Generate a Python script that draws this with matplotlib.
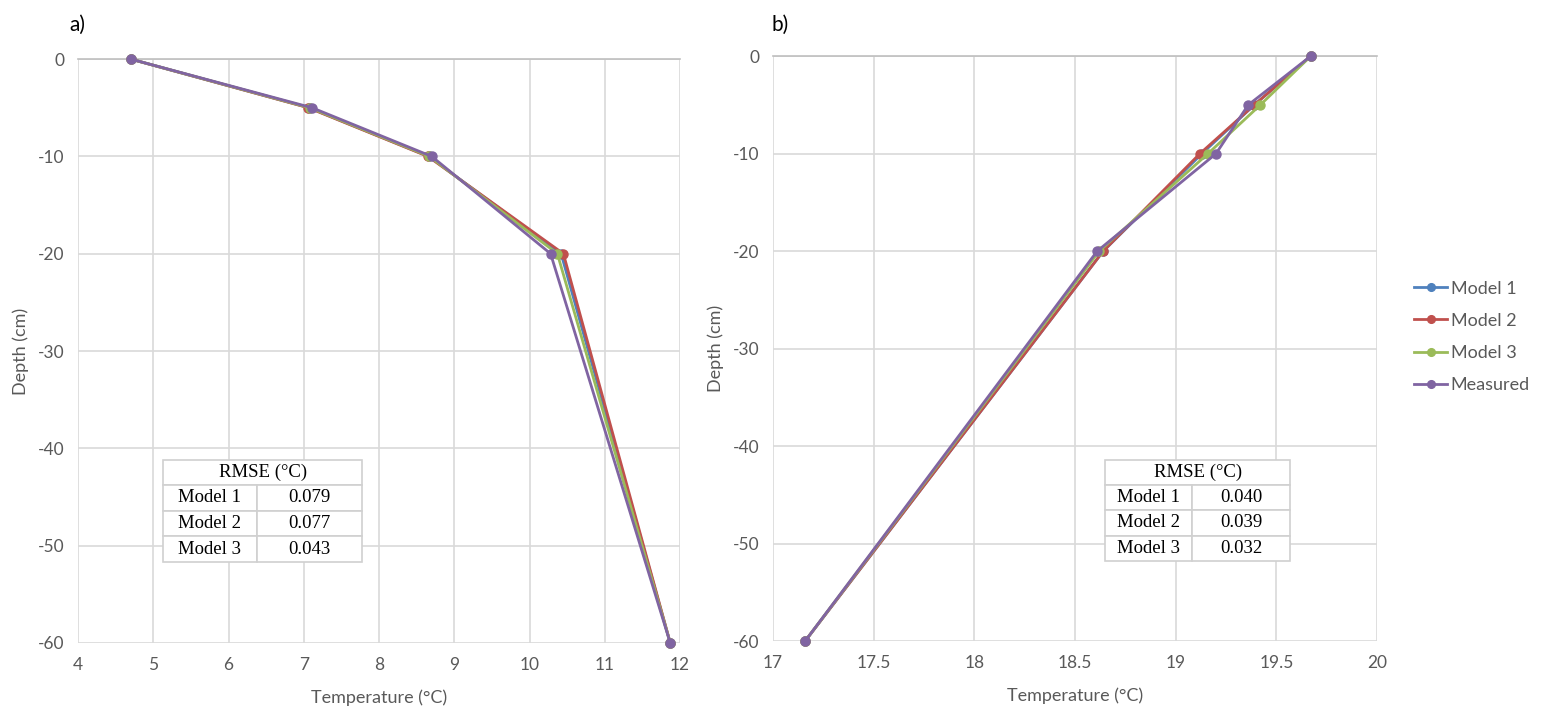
import matplotlib.pyplot as plt

# depths (cm)
depth = [0, -5, -10, -20, -60]

# panel a) temperatures (°C)
a_model1 = [4.70, 7.07, 8.66, 10.42, 11.87]
a_model2 = [4.70, 7.06, 8.65, 10.45, 11.87]
a_model3 = [4.70, 7.08, 8.67, 10.37, 11.87]
a_measured = [4.70, 7.11, 8.70, 10.28, 11.87]

# panel b) temperatures (°C)
b_model1 = [19.67, 19.39, 19.13, 18.64, 17.16]
b_model2 = [19.67, 19.39, 19.12, 18.64, 17.16]
b_model3 = [19.67, 19.42, 19.16, 18.62, 17.16]
b_measured = [19.67, 19.36, 19.20, 18.61, 17.16]

models = ['Model 1', 'Model 2', 'Model 3']
rmse_a = ['0.079', '0.077', '0.043']
rmse_b = ['0.040', '0.039', '0.032']

names = ['Model 1', 'Model 2', 'Model 3', 'Measured']
colors = ['#4F81BD', '#C0504D', '#9BBB59', '#8064A2']

plt.rcParams['font.family'] = ['Lato', 'DejaVu Sans']
plt.rcParams['axes.unicode_minus'] = False
tick_col = '#595959'
grid_col = '#D9D9D9'

fig = plt.figure(figsize=(15.49, 7.12), dpi=100)
ax1 = fig.add_axes([0.0504, 0.097, 0.3886, 0.820])
ax2 = fig.add_axes([0.499, 0.0997, 0.390, 0.8213])


def style(ax, xlim, xticks):
    ax.set_xlim(*xlim)
    ax.set_ylim(-60, 0)
    ax.set_xticks(xticks)
    ax.set_yticks(range(-60, 1, 10))
    ax.grid(True, color=grid_col, lw=1.2)
    ax.set_axisbelow(True)
    for s in ['left', 'right', 'bottom']:
        ax.spines[s].set_visible(False)
    ax.spines['top'].set_color('#BFBFBF')
    ax.spines['top'].set_linewidth(1.2)
    ax.tick_params(length=0, labelsize=12.5, colors=tick_col, pad=10)
    ax.set_xlabel('Temperature (°C)', fontsize=13, color=tick_col, labelpad=12)
    ax.set_ylabel('Depth (cm)', fontsize=13, color=tick_col, labelpad=6)


def add_table(ax, vals, bbox):
    x, y, w, h = bbox
    hdr = ax.table(cellText=[['RMSE (°C)']], cellLoc='center',
                   bbox=[x, y + h * 0.75, w, h * 0.25])
    body = ax.table(cellText=[[m, v] for m, v in zip(models, vals)],
                    cellLoc='center', colWidths=[0.47, 0.53],
                    bbox=[x, y, w, h * 0.75])
    for t in (hdr, body):
        t.set_zorder(5)
        t.auto_set_font_size(False)
        for cell in t.get_celld().values():
            cell.set_edgecolor('#D0D0D0')
            cell.set_linewidth(1.2)
            cell.get_text().set_fontfamily('Liberation Serif')
            cell.get_text().set_fontsize(13.5)
            cell.set_facecolor('white')


series_a = [a_model1, a_model2, a_model3, a_measured]
series_b = [b_model1, b_model2, b_model3, b_measured]

for ax, data in [(ax1, series_a), (ax2, series_b)]:
    for vals, c, n in zip(data, colors, names):
        ax.plot(vals, depth, color=c, lw=2, marker='o', ms=6.5, label=n,
                clip_on=False, zorder=3)

style(ax1, (4, 12), range(4, 13))
style(ax2, (17, 20), [17, 17.5, 18, 18.5, 19, 19.5, 20])
ax2.set_xticklabels(['17', '17.5', '18', '18.5', '19', '19.5', '20'])

add_table(ax1, rmse_a, [0.141, 0.139, 0.331, 0.175])
add_table(ax2, rmse_b, [0.550, 0.137, 0.306, 0.173])

fig.text(0.045, 0.965, 'a)', fontsize=15, va='center')
fig.text(0.498, 0.965, 'b)', fontsize=15, va='center')

leg = ax2.legend(loc='center left', bbox_to_anchor=(1.035, 0.52), frameon=False,
                 fontsize=13, handlelength=1.8, handletextpad=0.2,
                 labelspacing=0.9, markerscale=0.85)
for t in leg.get_texts():
    t.set_color(tick_col)

fig.savefig('out.png', dpi=100)
